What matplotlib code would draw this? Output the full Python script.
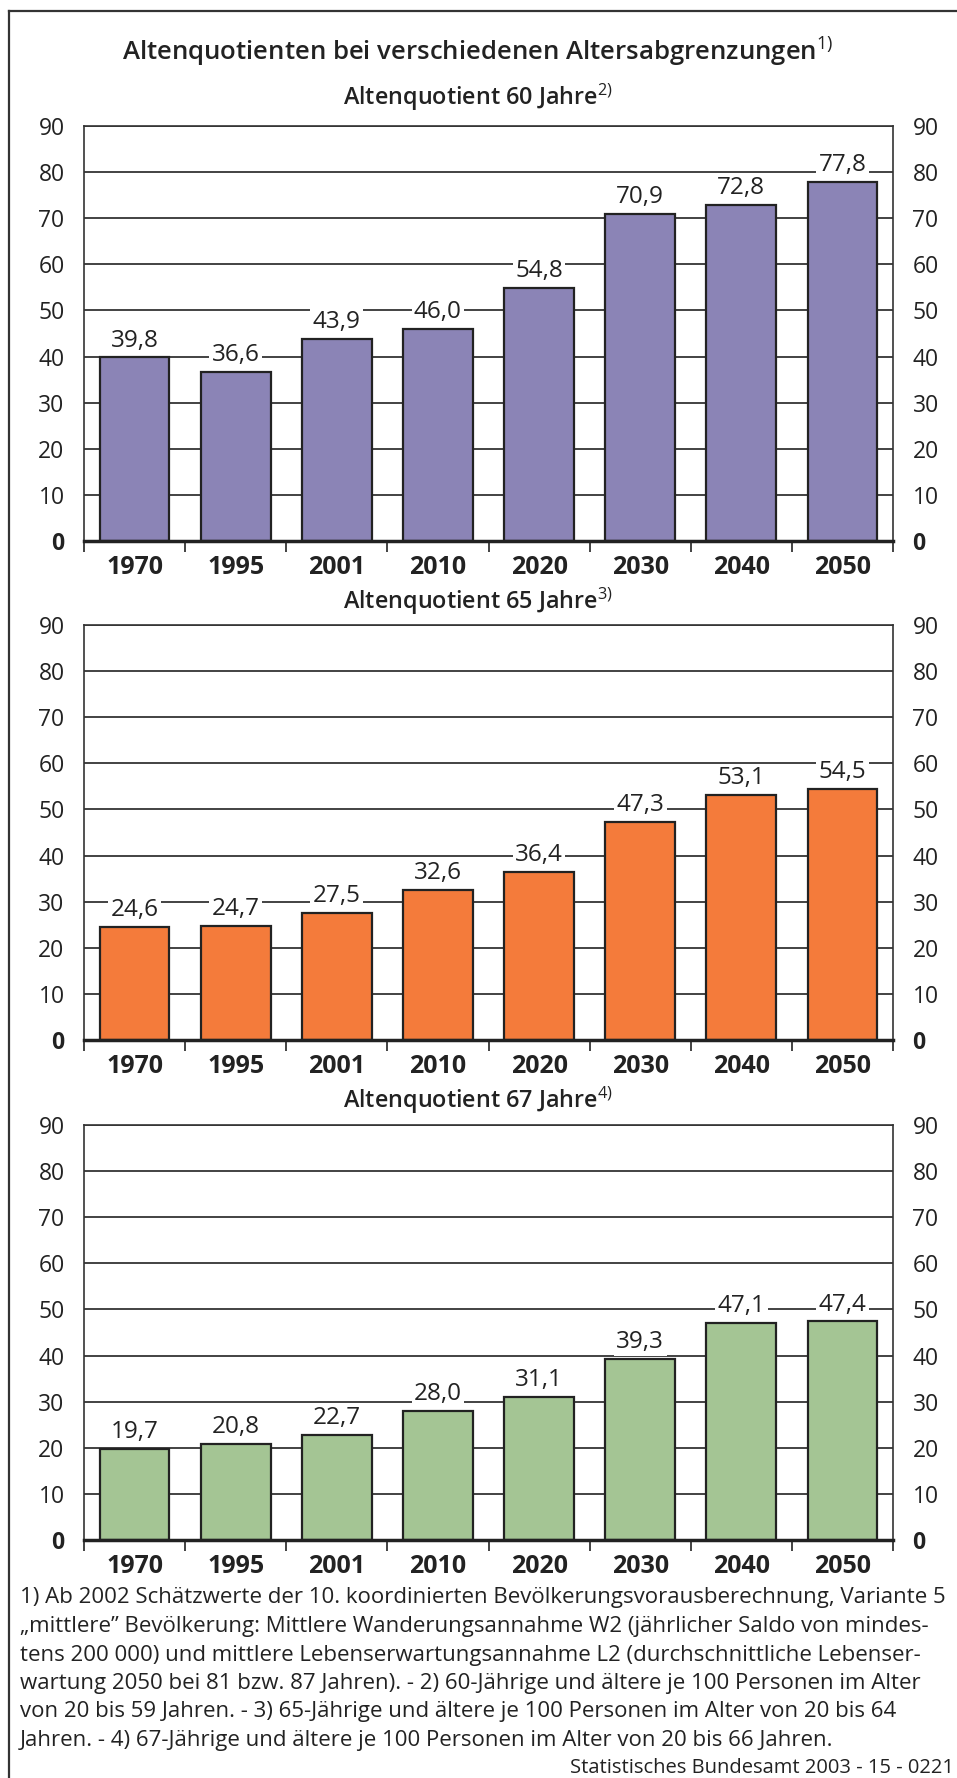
import matplotlib
matplotlib.use("Agg")
import matplotlib.pyplot as plt
from matplotlib.lines import Line2D

plt.rcParams['font.family'] = ['Open Sans', 'DejaVu Sans']
plt.rcParams['mathtext.fontset'] = 'custom'
plt.rcParams['mathtext.rm'] = 'Open Sans'
plt.rcParams['mathtext.it'] = 'Open Sans'

years = ['1970', '1995', '2001', '2010', '2020', '2030', '2040', '2050']
aq60 = [39.8, 36.6, 43.9, 46.0, 54.8, 70.9, 72.8, 77.8]
aq65 = [24.6, 24.7, 27.5, 32.6, 36.4, 47.3, 53.1, 54.5]
aq67 = [19.7, 20.8, 22.7, 28.0, 31.1, 39.3, 47.1, 47.4]
yticks = [0, 10, 20, 30, 40, 50, 60, 70, 80, 90]

panels = [
    ("Altenquotient 60 Jahre", "2)", aq60, '#8B84B6'),
    ("Altenquotient 65 Jahre", "3)", aq65, '#F47B3B'),
    ("Altenquotient 67 Jahre", "4)", aq67, '#A4C594'),
]

footnotes = [
    "1) Ab 2002 Schätzwerte der 10. koordinierten Bevölkerungsvorausberechnung, Variante 5",
    "\u201emittlere\u201d Bevölkerung: Mittlere Wanderungsannahme W2 (jährlicher Saldo von mindes-",
    "tens 200 000) und mittlere Lebenserwartungsannahme L2 (durchschnittliche Lebenser-",
    "wartung 2050 bei 81 bzw. 87 Jahren). - 2) 60-Jährige und ältere je 100 Personen im Alter",
    "von 20 bis 59 Jahren. - 3) 65-Jährige und ältere je 100 Personen im Alter von 20 bis 64",
    "Jahren. - 4) 67-Jährige und ältere je 100 Personen im Alter von 20 bis 66 Jahren.",
]

W, H = 957, 1778
fig = plt.figure(figsize=(W / 100, H / 100), dpi=100)
fig.patch.set_facecolor('white')

# frame (left and top only, the rest is cut off)
fig.add_artist(Line2D([9 / W, 9 / W], [0, 1 - 11 / H], color='#333', lw=1.6))
fig.add_artist(Line2D([9 / W, 1], [1 - 11 / H, 1 - 11 / H], color='#333', lw=1.6))

fig.text(478 / W, 1 - 52 / H, r"Altenquotienten bei verschiedenen Altersabgrenzungen$^{\mathrm{1)}}$",
         ha='center', va='center', fontsize=18.5, color='#222', fontweight='semibold')

left, right = 84, 893
tops = [126, 625, 1125]
sub_y = [97, 601, 1100]
ph = 415

for (title, sup, vals, col), top, sy in zip(panels, tops, sub_y):
    ax = fig.add_axes([left / W, 1 - (top + ph) / H, (right - left) / W, ph / H])
    fig.text(478 / W, 1 - sy / H, title + r"$^{\mathrm{" + sup + "}}$",
             ha='center', va='center', fontsize=16.8, color='#222', fontweight='semibold')
    x = range(len(years))
    ax.bar(x, vals, width=0.69, color=col, edgecolor='#222', linewidth=1.6, zorder=2)
    for i, v in enumerate(vals):
        ax.annotate(f"{v:.1f}".replace('.', ','), (i, v), xytext=(0, 3.5), textcoords='offset points',
                    ha='center', va='bottom', fontsize=17.5, color='#222', zorder=3,
                    bbox=dict(boxstyle='square,pad=0.1', fc='white', ec='none'))
    ax.set_xlim(-0.5, len(years) - 0.5)
    ax.set_ylim(0, 90)
    ax.set_yticks(yticks)
    ax.set_axisbelow(True)
    ax.yaxis.grid(True, color='#222', lw=1.2)
    ax.tick_params(axis='y', length=0, pad=14, labelsize=16.5, labelcolor='#222',
                   labelleft=True, labelright=True)
    zero = ax.yaxis.get_major_ticks()[0]
    zero.label1.set_fontweight('bold')
    zero.label2.set_fontweight('bold')
    ax.set_xticks(list(x))
    ax.set_xticklabels(years, fontsize=18, fontweight='bold', color='#222')
    ax.set_xticks([i - 0.5 for i in range(len(years) + 1)], minor=True)
    ax.tick_params(axis='x', which='major', length=0, pad=10)
    ax.tick_params(axis='x', which='minor', length=8, width=1.2, color='#222', direction='out')
    for s in ['left', 'right', 'top']:
        ax.spines[s].set_color('#333')
        ax.spines[s].set_linewidth(1.2)
    ax.spines['bottom'].set_color('#222')
    ax.spines['bottom'].set_linewidth(2.5)
    ax.spines['bottom'].set_zorder(4)

y0 = 1598
for k, line in enumerate(footnotes):
    fig.text(20 / W, 1 - (y0 + k * 28.5) / H, line, ha='left', va='center', fontsize=16, color='#222')

fig.text(954 / W, 1 - 1768 / H, "Statistisches Bundesamt 2003 - 15 - 0221", ha='right', va='center',
         fontsize=14.5, color='#222')

fig.savefig('out.png', dpi=100)
